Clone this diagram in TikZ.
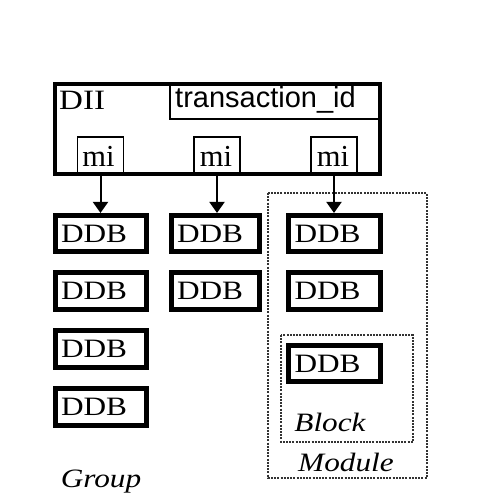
\documentclass[tikz,border=0pt]{standalone}
\usepackage{fontspec}
\setmainfont[FakeStretch=1.18]{Liberation Serif}
\newfontfamily\plainserif{Liberation Serif}
\setsansfont{Liberation Sans}
\usetikzlibrary{arrows.meta}
\tikzset{
  ddb/.style={draw, line width=4.6pt, minimum width=91.5pt, minimum height=36.5pt,
    text width=80pt, inner xsep=5.75pt, align=left,
    font=\fontsize{26.5}{30}\selectfont},
  mibox/.style={draw, line width=1.8pt, minimum width=46pt, minimum height=38pt,
    inner sep=0pt},
  mitext/.style={font=\plainserif\fontsize{30.5}{34}\selectfont, inner sep=0pt, anchor=base},
  area/.style={draw=black!80, line width=1.2pt, dash pattern=on 2pt off 1.2pt},
  arealabel/.style={font=\itshape\fontsize{26.5}{30}\selectfont, inner sep=0pt},
  link/.style={line width=2pt, -{Triangle[width=15pt,length=11pt]}}
}
\begin{document}
\begin{tikzpicture}[x=1pt,y=-1pt]
\useasboundingbox (0,0) rectangle (481,498);

% module and block areas
\draw[area] (268,193) rectangle (427,478);
\draw[area] (281,335) rectangle (413,442);

% DII container with transaction id field
\draw[line width=1.9pt] (170,82.5) rectangle (381,119);
\draw[line width=3.6pt] (54.8,83.8) rectangle (380.2,174.2);
\node[font=\fontsize{28}{32}\selectfont, inner sep=0pt, anchor=base west] (dii) at (59,109) {DII};
\node[font=\sffamily\fontsize{29}{33}\selectfont, inner sep=0pt, anchor=base west] (tid) at (175,107) {transaction\_id};

% mi slots
\node[mibox] (mi1) at (100.5,156) {};
\node[mibox] (mi2) at (217,156) {};
\node[mibox] (mi3) at (334,156) {};
\node[mitext] at (98.5,166) {mi};
\node[mitext] at (216,166) {mi};
\node[mitext] at (333,166) {mi};

% DDB columns
\node[ddb] (d11) at (101,233.5) {DDB};
\node[ddb] (d12) at (101,291) {DDB};
\node[ddb] (d13) at (101,349) {DDB};
\node[ddb] (d14) at (101,407) {DDB};
\node[ddb, minimum width=88.5pt, text width=77pt] (d21) at (215.5,233.5) {DDB};
\node[ddb, minimum width=88.5pt, text width=77pt] (d22) at (215.5,291) {DDB};
\node[ddb] (d31) at (334.5,233.5) {DDB};
\node[ddb] (d32) at (334.5,291) {DDB};
\node[ddb] (d33) at (334.5,363.5) {DDB};

% connectors
\draw[link] (mi1.south) -- (mi1.south |- d11.north);
\draw[link] (mi2.south) -- (mi2.south |- d21.north);
\draw[link] (mi3.south) -- (mi3.south |- d31.north);

% area labels
\node[arealabel] (blk) at (330,422) {Block};
\node[arealabel] (mod) at (346,462) {Module};
\node[arealabel] (grp) at (101,482) {Group};
\end{tikzpicture}
\end{document}
